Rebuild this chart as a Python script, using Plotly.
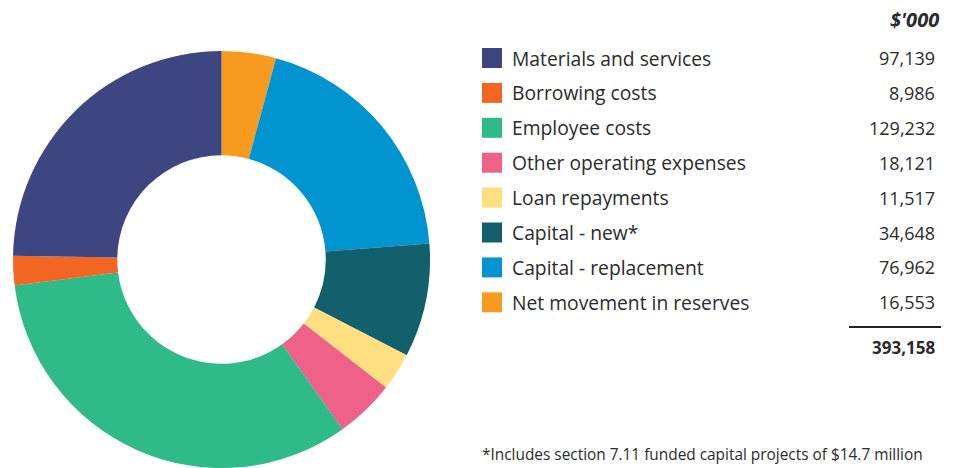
import plotly.graph_objects as go

# Expenditure categories ($'000), in table order
categories = [
    "Materials and services",
    "Borrowing costs",
    "Employee costs",
    "Other operating expenses",
    "Loan repayments",
    "Capital - new*",
    "Capital - replacement",
    "Net movement in reserves",
]
amounts = [97139, 8986, 129232, 18121, 11517, 34648, 76962, 16553]
colors = ["#3D4680", "#F26522", "#2FBA8A", "#EE628A",
          "#FFDF80", "#13606D", "#0294D1", "#F89A1F"]
unit_label = "$'000"
footnote = "*Includes section 7.11 funded capital projects of $14.7 million"

W, H = 956, 468
FONT = "Open Sans"
TEXT = "#2B2B2B"


def px(x):
    return x / W


def py(y):
    return 1 - y / H


# Ring runs clockwise from 12 o'clock starting with the last table entry
fig = go.Figure()
fig.add_trace(go.Pie(
    labels=categories[::-1],
    values=amounts[::-1],
    marker=dict(colors=colors[::-1], line=dict(width=0)),
    hole=0.5,
    sort=False,
    direction="clockwise",
    rotation=0,
    textinfo="none",
    hoverinfo="label+value",
    showlegend=False,
    domain=dict(x=[px(13), px(430)], y=[py(468), py(51)]),
))

shapes = []
annotations = []

# Column header
annotations.append(dict(
    x=px(941), y=py(20), xref="paper", yref="paper",
    text="<b><i>" + unit_label + "</i></b>", showarrow=False,
    xanchor="right", yanchor="middle",
    font=dict(family=FONT, size=20, color=TEXT),
))

# Legend table: swatch, label, value
row0, step = 58, 34.9
for i, (name, val, col) in enumerate(zip(categories, amounts, colors)):
    yc = row0 + i * step
    shapes.append(dict(
        type="rect", xref="paper", yref="paper",
        x0=px(482), x1=px(502), y0=py(yc + 10), y1=py(yc - 10),
        fillcolor=col, line=dict(width=0),
    ))
    annotations.append(dict(
        x=px(510), y=py(yc), xref="paper", yref="paper",
        text=name, showarrow=False, xanchor="left", yanchor="middle",
        font=dict(family=FONT, size=19.3, color=TEXT),
    ))
    annotations.append(dict(
        x=px(937), y=py(yc), xref="paper", yref="paper",
        text=f"{val:,}", showarrow=False, xanchor="right", yanchor="middle",
        font=dict(family=FONT, size=18, color=TEXT),
    ))

# Total rule and total
shapes.append(dict(
    type="line", xref="paper", yref="paper",
    x0=px(849), x1=px(941), y0=py(327), y1=py(327),
    line=dict(color="#222222", width=2),
))
annotations.append(dict(
    x=px(937), y=py(347), xref="paper", yref="paper",
    text=f"<b>{sum(amounts):,}</b>", showarrow=False,
    xanchor="right", yanchor="middle",
    font=dict(family=FONT, size=17, color=TEXT),
))

# Footnote
annotations.append(dict(
    x=px(480), y=py(454), xref="paper", yref="paper",
    text=footnote, showarrow=False, xanchor="left", yanchor="middle",
    font=dict(family=FONT, size=15.4, color=TEXT),
))

fig.update_layout(
    width=W, height=H,
    margin=dict(l=0, r=0, t=0, b=0),
    paper_bgcolor="white", plot_bgcolor="white",
    shapes=shapes, annotations=annotations,
)

fig.write_html("out.html")
